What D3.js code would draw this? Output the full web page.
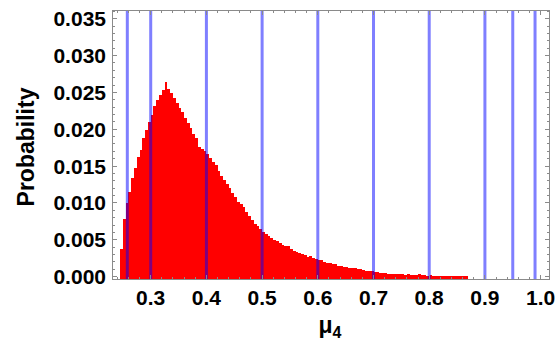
<!DOCTYPE html>
<html>
<head>
<meta charset="utf-8">
<script src="https://cdn.jsdelivr.net/npm/d3@7"></script>
<style>
  html, body { margin: 0; padding: 0; background: #fff; }
  svg { display: block; }
  text { font-family: "Liberation Sans", Arial, Helvetica, sans-serif; font-weight: bold; fill: #000; }
</style>
</head>
<body>
<svg id="chart" width="558" height="342"></svg>
<script>
// Histogram of mu_4: bins of width 0.005 starting at 0.245
const binStart = 0.245;
const binWidth = 0.005;
const probabilities = [
  0.0038, 0.0078, 0.0100, 0.0115, 0.0134, 0.0147, 0.0163, 0.0172, 0.0188, 0.0199,
  0.0210, 0.0220, 0.0231, 0.0240, 0.0246, 0.0253, 0.0264, 0.0255, 0.0249, 0.0243,
  0.0236, 0.0229, 0.0223, 0.0215, 0.0209, 0.0202, 0.0193,
  0.0188, 0.0176, 0.0173, 0.0170, 0.0166, 0.0161, 0.0156, 0.0151, 0.0144, 0.0137,
  0.0131, 0.0125, 0.0120, 0.0114, 0.0108, 0.0101, 0.0098, 0.0094, 0.0088, 0.0082,
  0.0077, 0.0072, 0.0069, 0.0064,
  0.0061, 0.0058, 0.0055, 0.0053, 0.0050, 0.0048, 0.0046, 0.0043, 0.0041, 0.0042,
  0.0038, 0.0035, 0.0033, 0.0032, 0.0031, 0.0029, 0.0027, 0.0028, 0.0025, 0.0024,
  0.0022, 0.0022, 0.0020, 0.0019, 0.0018, 0.0017, 0.0017, 0.0015, 0.0015, 0.0013,
  0.0013, 0.0012, 0.0012, 0.0011, 0.0010, 0.0010, 0.0009, 0.0008, 0.0007, 0.0007,
  0.0006, 0.0006, 0.0005, 0.0005, 0.0005, 0.0004, 0.0004, 0.0004, 0.0003,
  0.0003, 0.0003, 0.0002, 0.0003, 0.0002, 0.0002, 0.0002, 0.0003, 0.0002, 0.0002,
  0.0001, 0.0002, 0.0001, 0.0001, 0.0001, 0.0001, 0.0001, 0.00005, 0.0001, 0.00005,
  0.00005, 0.00003, 0.00003, 0.00002, 0.00002
];

// Reference values marked with vertical lines
const markerValues = [0.258, 0.3, 0.4, 0.5, 0.6, 0.7, 0.8, 0.9, 0.95, 0.99];

// Axis ticks
const xTickValues = [0.3, 0.4, 0.5, 0.6, 0.7, 0.8, 0.9, 1.0];
const xTickLabels = ["0.3", "0.4", "0.5", "0.6", "0.7", "0.8", "0.9", "1.0"];
const yTickValues = [0, 0.005, 0.010, 0.015, 0.020, 0.025, 0.030, 0.035];
const yTickLabels = ["0.000", "0.005", "0.010", "0.015", "0.020", "0.025", "0.030", "0.035"];
const xMinorStep = 0.02;
const yMinorStep = 0.001;

const bins = probabilities.map((p, i) => ({
  x0: binStart + i * binWidth,
  x1: binStart + (i + 1) * binWidth,
  p
}));

const frame = { left: 112, right: 549.3, top: 10.7, bottom: 279.5 };

const x = d3.scaleLinear().domain([0.2305, 1.0156]).range([frame.left, frame.right]);
const y = d3.scaleLinear().domain([-0.0004, 0.0361]).range([frame.bottom, frame.top]);

const svg = d3.select("#chart");

// Bars
svg.append("g")
  .selectAll("rect")
  .data(bins)
  .join("rect")
  .attr("x", d => x(d.x0))
  .attr("width", d => x(d.x1) - x(d.x0))
  .attr("y", d => y(d.p))
  .attr("height", d => frame.bottom - y(d.p))
  .attr("fill", "#ff0000")
  .attr("shape-rendering", "crispEdges");

// Translucent vertical marker lines
svg.append("g")
  .selectAll("line")
  .data(markerValues)
  .join("line")
  .attr("x1", d => x(d)).attr("x2", d => x(d))
  .attr("y1", frame.top).attr("y2", frame.bottom)
  .attr("stroke", "#0000ff")
  .attr("stroke-opacity", 0.5)
  .attr("stroke-width", 3);

// Frame ticks (inward, on all four sides)
const tickColor = "#8a8a8a";
const xMinor = d3.range(0.24, 1.0101, xMinorStep).filter(v => v > x.domain()[0] && v < x.domain()[1]);
const yMinor = d3.range(0, 0.0361, yMinorStep);

const ticks = svg.append("g").attr("stroke", tickColor).attr("stroke-width", 1).attr("shape-rendering", "crispEdges");
function xTick(v, len) {
  ticks.append("line").attr("x1", x(v)).attr("x2", x(v)).attr("y1", frame.bottom).attr("y2", frame.bottom - len);
  ticks.append("line").attr("x1", x(v)).attr("x2", x(v)).attr("y1", frame.top).attr("y2", frame.top + len);
}
function yTick(v, len) {
  ticks.append("line").attr("y1", y(v)).attr("y2", y(v)).attr("x1", frame.left).attr("x2", frame.left + len);
  ticks.append("line").attr("y1", y(v)).attr("y2", y(v)).attr("x1", frame.right).attr("x2", frame.right - len);
}
xMinor.forEach(v => xTick(v, 2.5));
xTickValues.forEach(v => xTick(v, 4.5));
yMinor.forEach(v => yTick(v, 2.5));
yTickValues.forEach(v => yTick(v, 4.5));

// Frame
svg.append("rect")
  .attr("x", frame.left).attr("y", frame.top)
  .attr("width", frame.right - frame.left).attr("height", frame.bottom - frame.top)
  .attr("fill", "none").attr("stroke", tickColor).attr("stroke-width", 1)
  .attr("shape-rendering", "crispEdges");

// Tick labels
svg.append("g")
  .selectAll("text")
  .data(xTickValues)
  .join("text")
  .attr("x", d => x(d))
  .attr("y", 304.5)
  .attr("text-anchor", "middle")
  .attr("font-size", 21)
  .text((d, i) => xTickLabels[i]);

svg.append("g")
  .selectAll("text")
  .data(yTickValues)
  .join("text")
  .attr("x", 106)
  .attr("y", d => y(d))
  .attr("dy", "0.36em")
  .attr("text-anchor", "end")
  .attr("font-size", 21)
  .text((d, i) => yTickLabels[i]);

// Axis titles
svg.append("text")
  .attr("transform", "translate(34,147) rotate(-90)")
  .attr("text-anchor", "middle")
  .attr("font-size", 23)
  .text("Probability");

const xt = svg.append("text")
  .attr("x", 330)
  .attr("y", 333)
  .attr("text-anchor", "middle")
  .attr("font-size", 23);
xt.append("tspan").text("μ");
xt.append("tspan").attr("font-size", 16).attr("dy", 5).text("4");
</script>
</body>
</html>
